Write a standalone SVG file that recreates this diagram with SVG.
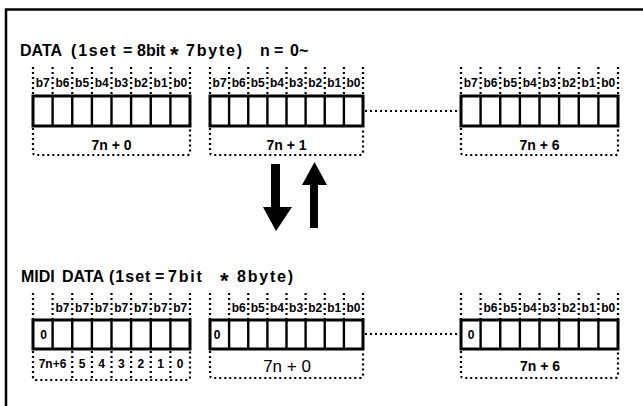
<svg xmlns="http://www.w3.org/2000/svg" width="643" height="406" viewBox="0 0 643 406">
<style>
.frame{fill:none;stroke:#000;stroke-width:2.5}
.box{fill:#fff;stroke:#000;stroke-width:3}
.cell{stroke:#000;stroke-width:2.4}
.dot{fill:none;stroke:#000;stroke-width:2.2;stroke-dasharray:2 3}
.title{font-family:"Liberation Sans",Arial,sans-serif;font-weight:bold;font-size:16px;fill:#000}
.ls{letter-spacing:1.8px}
.ls1{letter-spacing:1px}
.star{font-size:22px}
.bit{font-family:"Liberation Sans",Arial,sans-serif;font-weight:bold;font-size:12px;fill:#000;text-anchor:middle}
.lbl{font-family:"Liberation Sans",Arial,sans-serif;font-weight:bold;font-size:14px;fill:#000;text-anchor:middle}
.big{font-family:"Liberation Sans",Arial,sans-serif;font-size:17px;fill:#000;text-anchor:middle}
.arrow{fill:#000}
</style>
<rect width="643" height="406" fill="#fff"/>
<path class="frame" d="M6 406 V9.5 H643"/>

<g id="title-data">
<text class="title" y="56"><tspan x="20">DATA</tspan><tspan x="71" class="ls">(1set</tspan><tspan x="123">=</tspan><tspan x="137">8bit</tspan><tspan x="170" class="star" dy="6">*</tspan><tspan x="186" dy="-6" class="ls">7byte)</tspan><tspan x="260">n</tspan><tspan x="274">=</tspan><tspan x="290">0~</tspan></text>
</g>

<g id="byte-7n0">
<path class="dot" d="M33 67V96M52.6 67V96M72.25 67V96M91.9 67V96M111.5 67V96M131.1 67V96M150.75 67V96M170.4 67V96M190 67V96"/>
<text class="bit" y="87"><tspan x="42.8">b7</tspan><tspan x="62.4">b6</tspan><tspan x="82.1">b5</tspan><tspan x="101.7">b4</tspan><tspan x="121.3">b3</tspan><tspan x="140.9">b2</tspan><tspan x="160.6">b1</tspan><tspan x="180.2">b0</tspan></text>
<rect class="box" x="33" y="96" width="157" height="30"/>
<path class="cell" d="M52.6 96V126M72.25 96V126M91.9 96V126M111.5 96V126M131.1 96V126M150.75 96V126M170.4 96V126"/>
<path class="dot" d="M33 128V152Q33 155 36 155H187Q190 155 190 152V128"/>
<text class="lbl" x="111.5" y="150">7n + 0</text>
</g>

<g id="byte-7n1">
<path class="dot" d="M210 67V96M229.1 67V96M248.25 67V96M267.4 67V96M286.5 67V96M305.6 67V96M324.75 67V96M343.9 67V96M363 67V96"/>
<text class="bit" y="87"><tspan x="219.6">b7</tspan><tspan x="238.7">b6</tspan><tspan x="257.8">b5</tspan><tspan x="276.9">b4</tspan><tspan x="296.1">b3</tspan><tspan x="315.2">b2</tspan><tspan x="334.3">b1</tspan><tspan x="353.4">b0</tspan></text>
<rect class="box" x="210" y="96" width="153" height="30"/>
<path class="cell" d="M229.1 96V126M248.25 96V126M267.4 96V126M286.5 96V126M305.6 96V126M324.75 96V126M343.9 96V126"/>
<path class="dot" d="M210 128V152Q210 155 213 155H360Q363 155 363 152V128"/>
<text class="lbl" x="286.5" y="150">7n + 1</text>
</g>

<g id="byte-7n6">
<path class="dot" d="M461 67V96M480.6 67V96M500.25 67V96M519.9 67V96M539.5 67V96M559.1 67V96M578.75 67V96M598.4 67V96M618 67V96"/>
<text class="bit" y="87"><tspan x="470.8">b7</tspan><tspan x="490.4">b6</tspan><tspan x="510.1">b5</tspan><tspan x="529.7">b4</tspan><tspan x="549.3">b3</tspan><tspan x="568.9">b2</tspan><tspan x="588.6">b1</tspan><tspan x="608.2">b0</tspan></text>
<rect class="box" x="461" y="96" width="157" height="30"/>
<path class="cell" d="M480.6 96V126M500.25 96V126M519.9 96V126M539.5 96V126M559.1 96V126M578.75 96V126M598.4 96V126"/>
<path class="dot" d="M461 128V152Q461 155 464 155H615Q618 155 618 152V128"/>
<text class="lbl" x="539.5" y="150">7n + 6</text>
</g>

<g id="title-midi">
<text class="title" y="282"><tspan x="21">MIDI</tspan><tspan x="62">DATA</tspan><tspan x="109" class="ls1">(1set</tspan><tspan x="155">=</tspan><tspan x="168" class="ls">7bit</tspan><tspan x="220" class="star" dy="6">*</tspan><tspan x="237" dy="-6" class="ls">8byte)</tspan></text>
</g>

<g id="midi-msb">
<path class="dot" d="M33 293V320M52.6 293V320M72.25 293V320M91.9 293V320M111.5 293V320M131.1 293V320M150.75 293V320M170.4 293V320M190 293V320"/>
<text class="bit" y="312"><tspan x="62.4">b7</tspan><tspan x="82.1">b7</tspan><tspan x="101.7">b7</tspan><tspan x="121.3">b7</tspan><tspan x="140.9">b7</tspan><tspan x="160.6">b7</tspan><tspan x="180.2">b7</tspan></text>
<rect class="box" x="33" y="320" width="157" height="29"/>
<path class="cell" d="M52.6 320V349M72.25 320V349M91.9 320V349M111.5 320V349M131.1 320V349M150.75 320V349M170.4 320V349"/>
<text class="bit" x="43.5" y="339">0</text>
<path class="dot" d="M33 351V377Q33 380 36 380H187Q190 380 190 377V351M72.25 351V380M91.9 351V380M111.5 351V380M131.1 351V380M150.75 351V380M170.4 351V380"/>
<text class="bit" font-size="13" y="368"><tspan x="52.5">7n+6</tspan><tspan x="82.1">5</tspan><tspan x="101.7">4</tspan><tspan x="121.3">3</tspan><tspan x="140.9">2</tspan><tspan x="160.6">1</tspan><tspan x="180.2">0</tspan></text>
</g>

<g id="midi-7n0">
<path class="dot" d="M210 293V320M229.1 293V320M248.25 293V320M267.4 293V320M286.5 293V320M305.6 293V320M324.75 293V320M343.9 293V320M363 293V320"/>
<text class="bit" y="312"><tspan x="238.7">b6</tspan><tspan x="257.8">b5</tspan><tspan x="276.9">b4</tspan><tspan x="296.1">b3</tspan><tspan x="315.2">b2</tspan><tspan x="334.3">b1</tspan><tspan x="353.4">b0</tspan></text>
<rect class="box" x="210" y="320" width="153" height="29"/>
<path class="cell" d="M229.1 320V349M248.25 320V349M267.4 320V349M286.5 320V349M305.6 320V349M324.75 320V349M343.9 320V349"/>
<text class="bit" x="217" y="339">0</text>
<path class="dot" d="M210 351V375Q210 378 213 378H360Q363 378 363 375V351"/>
<text class="big" x="287" y="372">7n + 0</text>
</g>

<g id="midi-7n6">
<path class="dot" d="M461 293V320M480.6 293V320M500.25 293V320M519.9 293V320M539.5 293V320M559.1 293V320M578.75 293V320M598.4 293V320M618 293V320"/>
<text class="bit" y="312"><tspan x="490.4">b6</tspan><tspan x="510.1">b5</tspan><tspan x="529.7">b4</tspan><tspan x="549.3">b3</tspan><tspan x="568.9">b2</tspan><tspan x="588.6">b1</tspan><tspan x="608.2">b0</tspan></text>
<rect class="box" x="461" y="320" width="157" height="29"/>
<path class="cell" d="M480.6 320V349M500.25 320V349M519.9 320V349M539.5 320V349M559.1 320V349M578.75 320V349M598.4 320V349"/>
<text class="bit" x="471" y="339">0</text>
<path class="dot" d="M461 351V375Q461 378 464 378H615Q618 378 618 375V351"/>
<text class="lbl" x="540" y="371">7n + 6</text>
</g>

<g id="connectors">
<path class="dot" d="M365 111H459"/>
<path class="dot" d="M365 334H459"/>
<polygon class="arrow" points="271,164 280,164 280,207 292,207 276,231 263,207 271,207"/>
<polygon class="arrow" points="310,228 318,228 318,185 327,185 314.5,162 302,185 310,185"/>
</g>
</svg>
